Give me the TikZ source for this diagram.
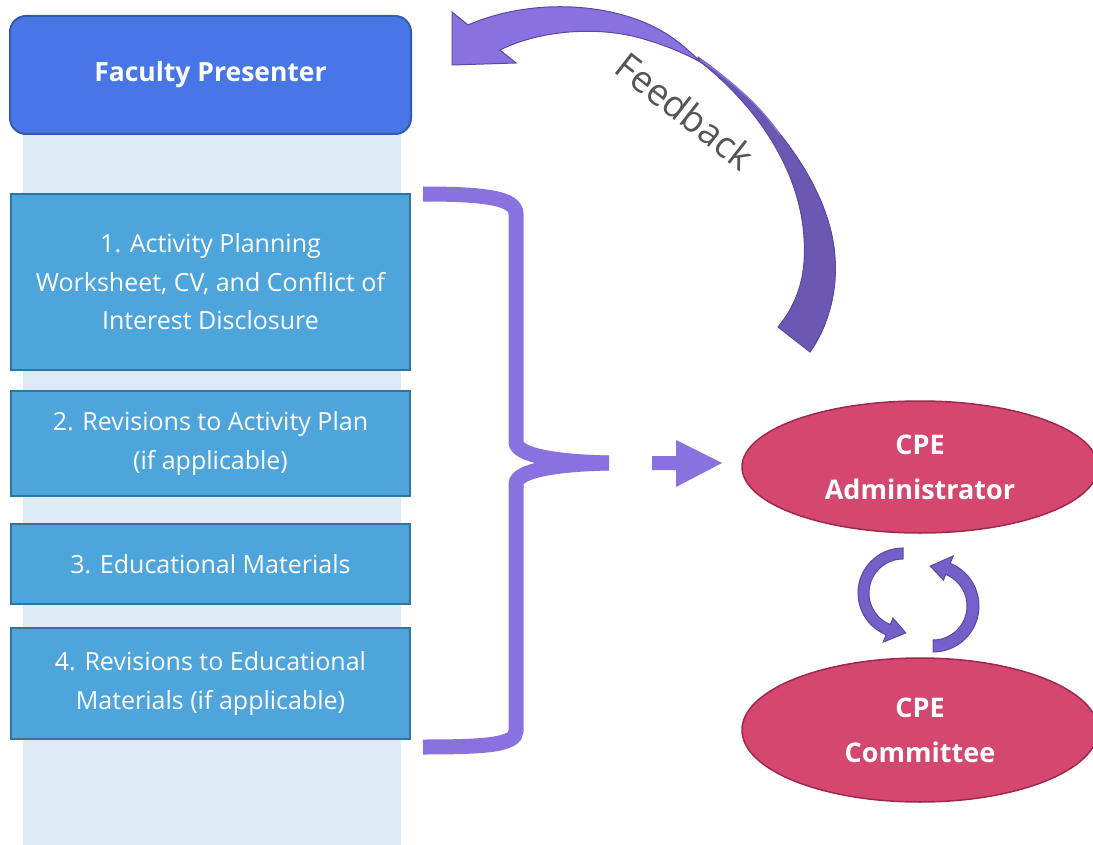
\documentclass[tikz,border=0pt]{standalone}
\usepackage{fontspec}
\setmainfont{Open Sans}
\usetikzlibrary{calc,shapes.geometric}
\definecolor{colbg}{RGB}{220,235,246}
\definecolor{hdrfill}{RGB}{72,118,230}
\definecolor{hdrline}{RGB}{52,90,180}
\definecolor{boxfill}{RGB}{78,165,220}
\definecolor{boxline}{RGB}{46,118,160}
\definecolor{ellfill}{RGB}{212,71,111}
\definecolor{ellline}{RGB}{160,40,80}
\definecolor{purp}{RGB}{137,114,224}
\definecolor{purpdark}{RGB}{108,88,178}
\definecolor{purpline}{RGB}{90,74,160}
\definecolor{cycfill}{RGB}{116,96,200}
\definecolor{fbtext}{RGB}{85,85,85}
\begin{document}
\begin{tikzpicture}[x=1pt,y=-1pt,
  hdr/.style={draw=hdrline,line width=2pt,fill=hdrfill,rounded corners=16pt,
    minimum width=401pt,minimum height=118pt,text=white,
    font=\fontsize{26.5}{30}\selectfont\bfseries},
  stepbox/.style={draw=boxline,line width=2pt,fill=boxfill,minimum width=399pt,
    text=white,align=center,font=\fontsize{25}{38.5}\selectfont},
  cpe/.style={ellipse,draw=ellline,line width=1.5pt,fill=ellfill,minimum width=356pt,
    text=white,align=center,font=\fontsize{27}{45}\selectfont\bfseries},
  brace/.style={draw=purp,line width=15pt},
  cyc/.style={fill=cycfill,draw=purpline,line width=1pt}
]
\useasboundingbox (0,0) rectangle (1093,845);
% background column
\fill[colbg] (23,130) rectangle (401,845);
% header
\node[hdr] (hdr) at (210.5,75) {Faculty Presenter};
% step boxes
\node[stepbox,minimum height=176pt] (s1) at (210.5,282) {1. Activity Planning\\Worksheet, CV, and Conflict of\\Interest Disclosure};
\node[stepbox,minimum height=105pt] (s2) at (210.5,443.5) {2. Revisions to Activity Plan\\(if applicable)};
\node[stepbox,minimum height=80pt] (s3) at (210.5,564) {3. Educational Materials};
\node[stepbox,minimum height=111pt] (s4) at (210.5,683.5) {4. Revisions to Educational\\Materials (if applicable)};
% ellipses
\node[cpe,minimum height=132pt] (adm) at (920,467) {CPE\\Administrator};
\node[cpe,minimum height=144pt] (com) at (920,730) {CPE\\Committee};
% brace
\coordinate (btop) at (423,194);
\coordinate (bmid) at (609,463);
\coordinate (bbot) at (423,747);
\draw[brace] (btop) .. controls (485,194) and (516,198) .. (516,214) -- (516,442)
  .. controls (516,456) and (560,462) .. (bmid);
\draw[brace] (bmid) .. controls (560,464) and (516,470) .. (516,484) -- (516,731)
  .. controls (516,745) and (485,747) .. (bbot);
% arrow to administrator
\fill[purp] (652,456) -- (676,456) -- (676,440) -- (722,463) -- (676,487) -- (676,470) -- (652,470) -- cycle;
% feedback arrow: light part with head
\filldraw[fill=purp,draw=purpline,line width=1pt]
  (468,25) -- (452,12) -- (452,65) -- (516,63) -- (500,50)
  .. controls (540,30) and (600,25) .. (647,40)
  .. controls (670,47) and (688,55) .. (702,63)
  .. controls (690,52) and (678,40) .. (660,30)
  .. controls (610,2) and (530,-2) .. (468,25) -- cycle;
% feedback arrow: dark part to tail
\filldraw[fill=purpdark,draw=purpline,line width=1pt]
  (698,57) .. controls (760,100) and (830,180) .. (835,257)
  .. controls (838,295) and (826,330) .. (810,352) -- (778,327)
  .. controls (800,300) and (808,270) .. (803,227)
  .. controls (795,160) and (750,100) .. (698,60) -- cycle;
% thin light strip along the outer edge of the twist
\draw[purp,line width=1.5pt] (700,59.5) .. controls (730,80) and (760,105) .. (780,135);
\node[text=fbtext,rotate=-38,font=\fontsize{37}{42}\selectfont] (fb) at (685,111) {Feedback};
% cycle arrows
\filldraw[cyc] plot[domain=270:112,samples=40] ({903+45*cos(\x)},{593+45*sin(\x)})
  -- ({903+53*cos(112)},{593+53*sin(112)}) -- ({903+40*cos(86)},{593+40*sin(86)})
  -- ({903+27*cos(112)},{593+27*sin(112)})
  -- plot[domain=112:270,samples=40] ({903+34*cos(\x)},{593+34*sin(\x)}) -- cycle;
\filldraw[cyc] plot[domain=90:-68,samples=40] ({933+46*cos(\x)},{606+46*sin(\x)})
  -- ({933+54*cos(-68)},{606+54*sin(-68)}) -- ({933+40*cos(-94)},{606+40*sin(-94)})
  -- ({933+28*cos(-68)},{606+28*sin(-68)})
  -- plot[domain=-68:90,samples=40] ({933+34*cos(\x)},{606+34*sin(\x)}) -- cycle;
\end{tikzpicture}
\end{document}
